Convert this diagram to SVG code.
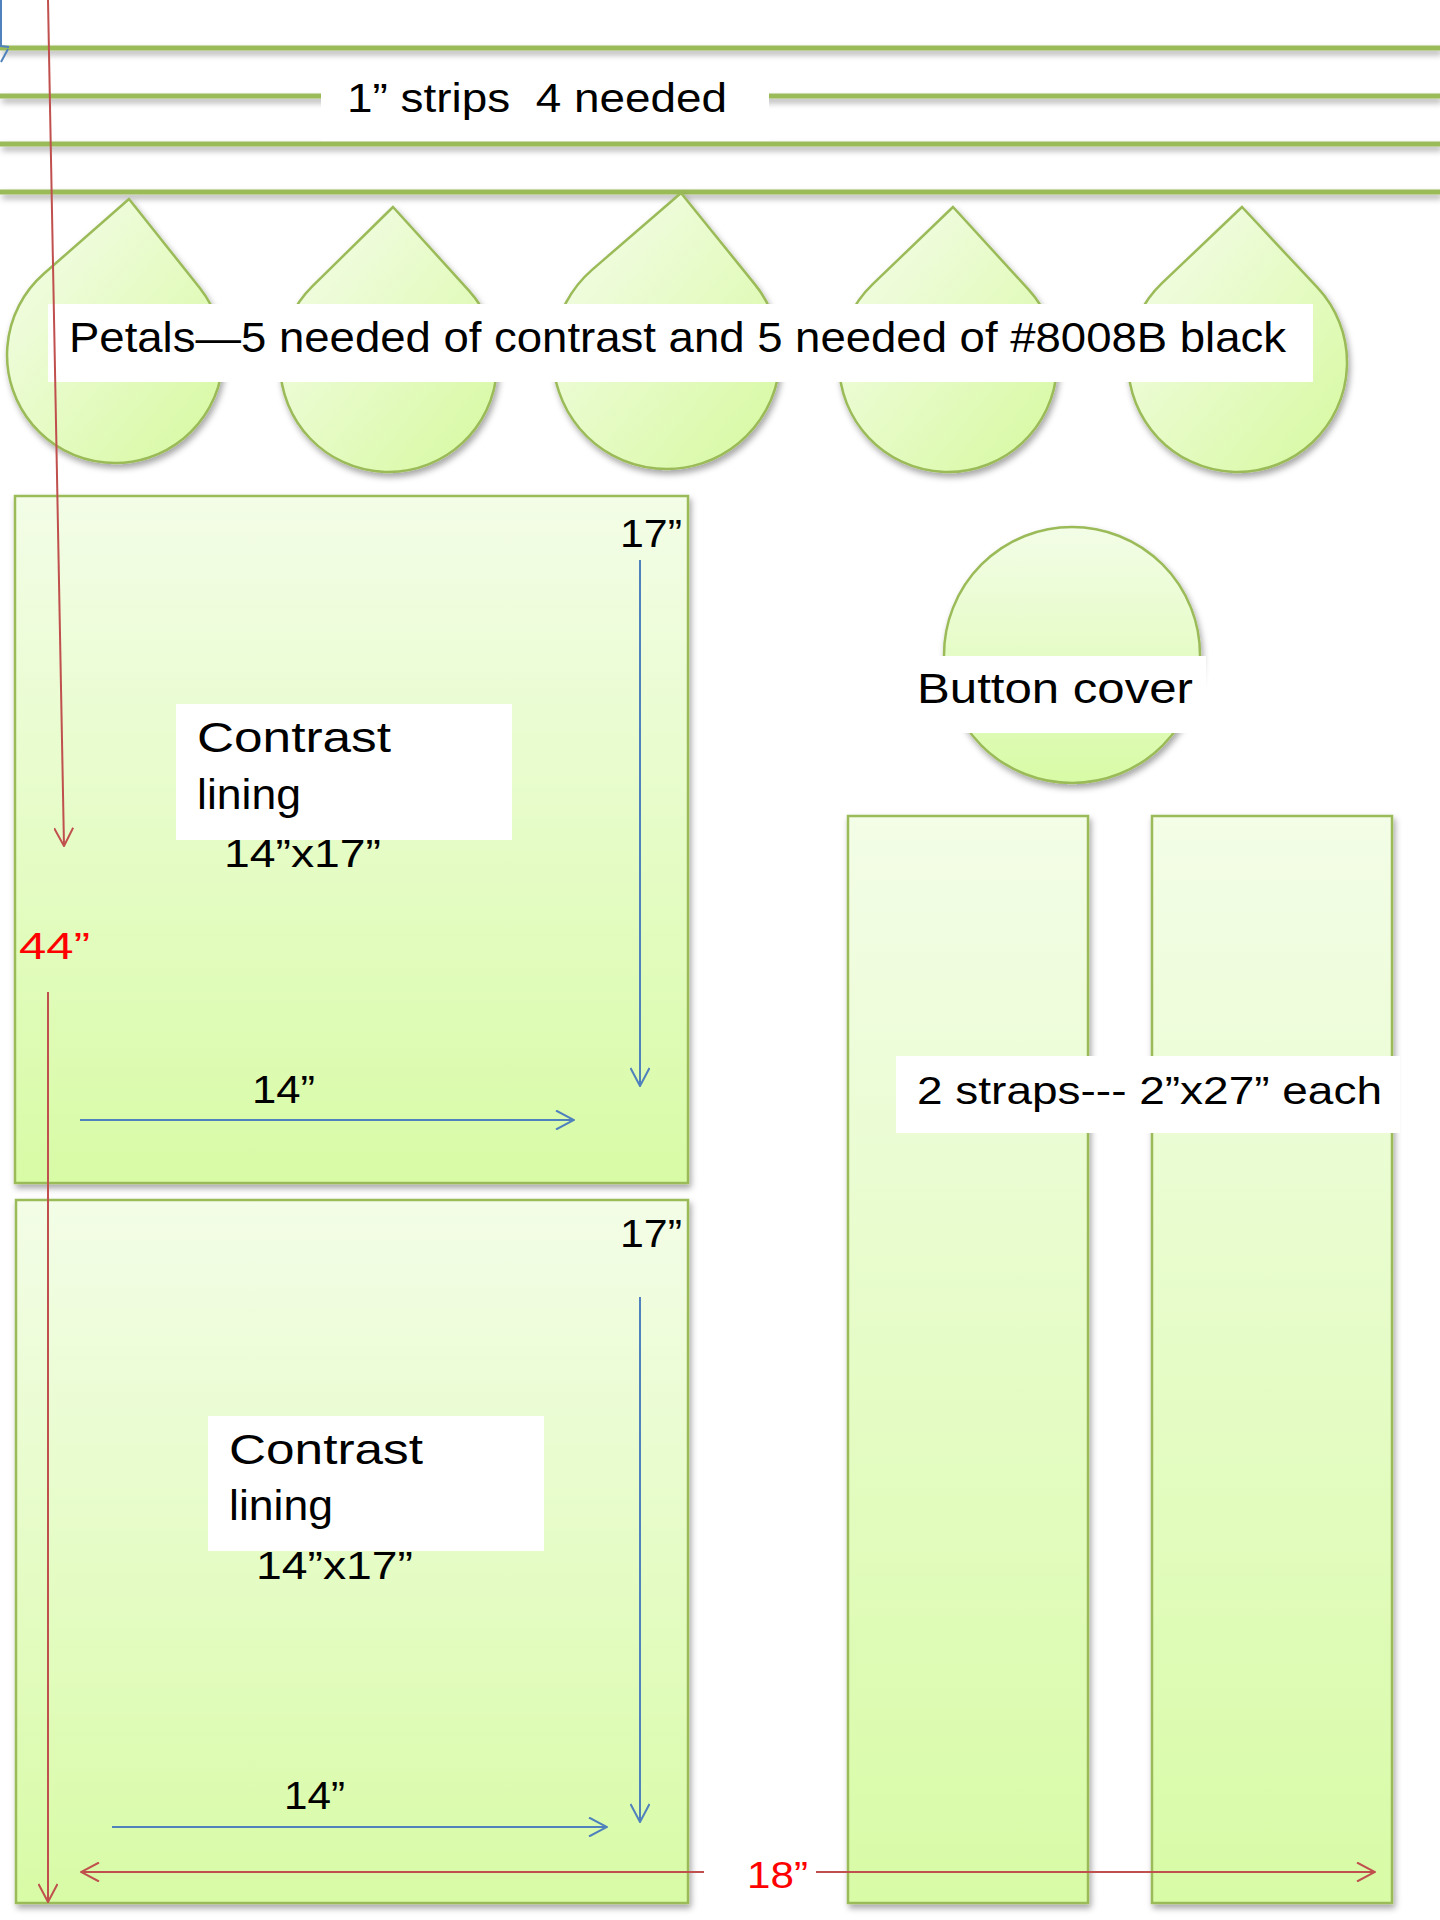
<svg xmlns="http://www.w3.org/2000/svg" width="1440" height="1920" viewBox="0 0 1440 1920">
<defs>
  <style>
    .t{font-family:"Liberation Sans",Arial,sans-serif;fill:#000;white-space:pre}
    .red{fill:#ff0000}
    .strip{stroke:#9bbb59;stroke-width:5;fill:none}
    .shape{stroke:#9bbb59;stroke-width:2.5}
    .box{fill:#ffffff}
    .blue{stroke:#4f81bd;stroke-width:2;fill:none}
    .redl{stroke:#c0504d;stroke-width:2;fill:none}
  </style>
  <linearGradient id="gv" x1="0" y1="0" x2="0" y2="1">
    <stop offset="0" stop-color="#f3fde7"/>
    <stop offset="1" stop-color="#d8fba6"/>
  </linearGradient>
  <linearGradient id="gd" x1="0" y1="0" x2="1" y2="1">
    <stop offset="0" stop-color="#f6fdee"/>
    <stop offset="1" stop-color="#d6f99e"/>
  </linearGradient>
  <filter id="sh" x="-10%" y="-10%" width="130%" height="130%">
    <feDropShadow dx="2" dy="4" stdDeviation="3" flood-color="#000" flood-opacity="0.35"/>
  </filter>
  <marker id="ab" viewBox="0 0 20 20" refX="19" refY="10" markerWidth="20" markerHeight="20" markerUnits="userSpaceOnUse" orient="auto">
    <path d="M1,0.5 L19,10 L1,19.5" fill="none" stroke="#4f81bd" stroke-width="2"/>
  </marker>
  <marker id="ar" viewBox="0 0 20 20" refX="19" refY="10" markerWidth="20" markerHeight="20" markerUnits="userSpaceOnUse" orient="auto">
    <path d="M1,0.5 L19,10 L1,19.5" fill="none" stroke="#c0504d" stroke-width="2"/>
  </marker>
</defs>
<rect width="1440" height="1920" fill="#ffffff"/>

<g id="strips" filter="url(#sh)">
  <line class="strip" x1="0" y1="48" x2="1440" y2="48"/>
  <line class="strip" x1="0" y1="96" x2="1440" y2="96"/>
  <line class="strip" x1="0" y1="144" x2="1440" y2="144"/>
  <line class="strip" x1="0" y1="192" x2="1440" y2="192"/>
</g>
<g id="strips-label">
  <rect class="box" x="321" y="72" width="448" height="69"/>
  <text class="t" x="347" y="112" font-size="40" textLength="380" lengthAdjust="spacingAndGlyphs">1” strips  4 needed</text>
</g>

<g id="petal-1"><path class="shape" fill="url(#gd)" filter="url(#sh)" d="M129,199 L43.8,273.8 A108,108 0 1 0 199.6,287.8 Z"/></g>
<g id="petal-2"><path class="shape" fill="url(#gd)" filter="url(#sh)" d="M393,207 L312.5,286.1 A108.5,108.5 0 1 0 468.9,290.6 Z"/></g>
<g id="petal-3"><path class="shape" fill="url(#gd)" filter="url(#sh)" d="M681,193 L592.3,269.6 A113.5,113.5 0 1 0 754.7,284.1 Z"/></g>
<g id="petal-4"><path class="shape" fill="url(#gd)" filter="url(#sh)" d="M953,207 L872.5,284.4 A109,109 0 1 0 1028.4,289.4 Z"/></g>
<g id="petal-5"><path class="shape" fill="url(#gd)" filter="url(#sh)" d="M1242,207 L1162,283.2 A109.5,109.5 0 1 0 1317.5,287.7 Z"/></g>
<g id="petals-label">
  <rect class="box" x="48" y="304" width="1265" height="78"/>
  <text class="t" x="69" y="352" font-size="42" textLength="1217" lengthAdjust="spacingAndGlyphs">Petals—5 needed of contrast and 5 needed of #8008B black</text>
</g>

<g id="lining-1">
  <rect class="shape" fill="url(#gv)" filter="url(#sh)" x="15" y="496" width="673" height="687"/>
  <rect class="box" x="176" y="704" width="336" height="136"/>
  <text class="t" x="197" y="752" font-size="42" textLength="194" lengthAdjust="spacingAndGlyphs">Contrast</text>
  <text class="t" x="197" y="809" font-size="42" textLength="104" lengthAdjust="spacingAndGlyphs">lining</text>
  <text class="t" x="224" y="867" font-size="38" textLength="157" lengthAdjust="spacingAndGlyphs">14”x17”</text>
  <text class="t" x="620" y="547" font-size="38" textLength="62" lengthAdjust="spacingAndGlyphs">17”</text>
  <text class="t" x="252" y="1103" font-size="38" textLength="63" lengthAdjust="spacingAndGlyphs">14”</text>
</g>

<g id="lining-2">
  <rect class="shape" fill="url(#gv)" filter="url(#sh)" x="16" y="1200" width="672" height="703"/>
  <rect class="box" x="208" y="1416" width="336" height="135"/>
  <text class="t" x="229" y="1464" font-size="42" textLength="194" lengthAdjust="spacingAndGlyphs">Contrast</text>
  <text class="t" x="229" y="1520" font-size="42" textLength="104" lengthAdjust="spacingAndGlyphs">lining</text>
  <text class="t" x="256" y="1579" font-size="38" textLength="157" lengthAdjust="spacingAndGlyphs">14”x17”</text>
  <text class="t" x="620" y="1247" font-size="38" textLength="62" lengthAdjust="spacingAndGlyphs">17”</text>
  <text class="t" x="284" y="1809" font-size="38" textLength="61" lengthAdjust="spacingAndGlyphs">14”</text>
</g>

<g id="button-cover">
  <circle class="shape" fill="url(#gv)" filter="url(#sh)" cx="1072" cy="655" r="128"/>
  <rect class="box" x="905" y="656" width="301" height="77"/>
  <text class="t" x="917" y="703" font-size="42" textLength="276" lengthAdjust="spacingAndGlyphs">Button cover</text>
</g>

<g id="strap-1"><rect class="shape" fill="url(#gv)" filter="url(#sh)" x="848" y="816" width="240" height="1087"/></g>
<g id="strap-2"><rect class="shape" fill="url(#gv)" filter="url(#sh)" x="1152" y="816" width="240" height="1087"/></g>
<g id="straps-label">
  <rect class="box" x="896" y="1056" width="504" height="77"/>
  <text class="t" x="917" y="1104" font-size="38" textLength="465" lengthAdjust="spacingAndGlyphs">2 straps--- 2”x27” each</text>
</g>

<g id="dimension-labels">
  <text class="t red" x="19" y="959" font-size="37" textLength="71" lengthAdjust="spacingAndGlyphs">44”</text>
  <text class="t red" x="747" y="1888" font-size="37" textLength="61" lengthAdjust="spacingAndGlyphs">18”</text>
</g>

<g id="connectors">
  <path class="blue" d="M1,0 L1,46 L9,47 M8,49 L1,62"/>
  <line class="blue" x1="640" y1="560" x2="640" y2="1086" marker-end="url(#ab)"/>
  <line class="blue" x1="80" y1="1120" x2="574" y2="1120" marker-end="url(#ab)"/>
  <line class="blue" x1="640" y1="1297" x2="640" y2="1822" marker-end="url(#ab)"/>
  <line class="blue" x1="112" y1="1827" x2="607" y2="1827" marker-end="url(#ab)"/>
  <line class="redl" x1="48" y1="0" x2="64" y2="846" marker-end="url(#ar)"/>
  <line class="redl" x1="48" y1="992" x2="48" y2="1902" marker-end="url(#ar)"/>
  <line class="redl" x1="704" y1="1872" x2="81" y2="1872" marker-end="url(#ar)"/>
  <line class="redl" x1="816" y1="1872" x2="1375" y2="1872" marker-end="url(#ar)"/>
</g>
</svg>
